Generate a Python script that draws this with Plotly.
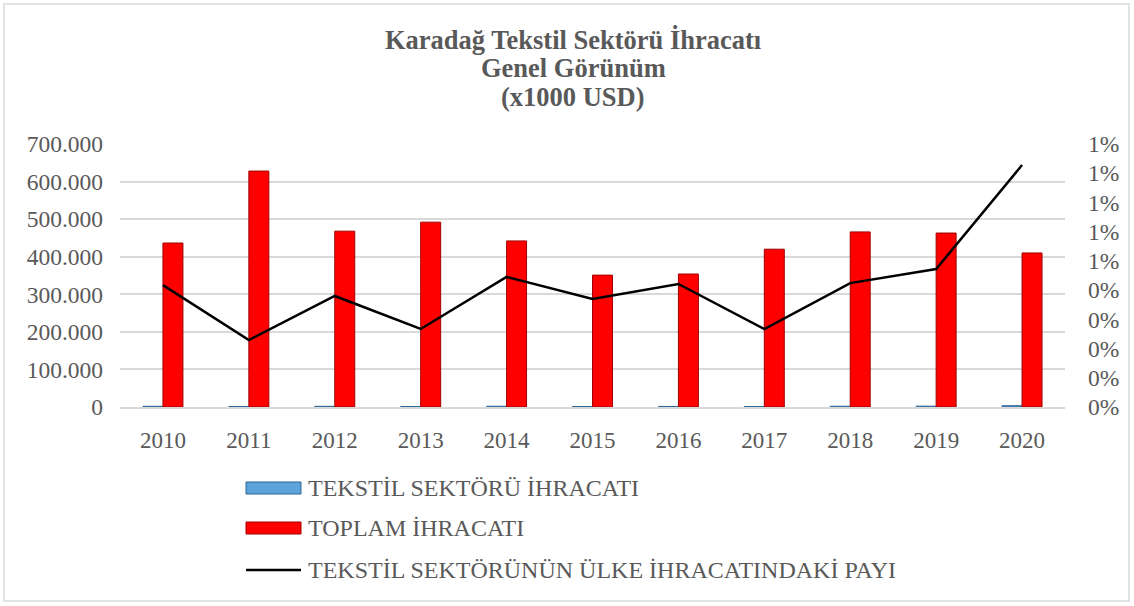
import plotly.graph_objects as go

years = ["2010", "2011", "2012", "2013", "2014", "2015", "2016", "2017", "2018", "2019", "2020"]
toplam_ihracat = [436500, 628000, 468000, 492000, 442000, 351000, 354000, 420000, 466000, 463000, 410000]
tekstil_ihracat = [1820, 1440, 1780, 1310, 1970, 1300, 1490, 1120, 1980, 2190, 3400]
tekstil_payi = [0.00417, 0.00229, 0.00380, 0.00267, 0.00445, 0.00370, 0.00421, 0.00267, 0.00424, 0.00472, 0.00828]

left_ticks = [0, 100000, 200000, 300000, 400000, 500000, 600000, 700000]
left_labels = ["0", "100.000", "200.000", "300.000", "400.000", "500.000", "600.000", "700.000"]
right_ticks = [0.000, 0.001, 0.002, 0.003, 0.004, 0.005, 0.006, 0.007, 0.008, 0.009]
right_labels = ["0%", "0%", "0%", "0%", "0%", "1%", "1%", "1%", "1%", "1%"]

series_names = ["TEKSTİL SEKTÖRÜ İHRACATI", "TOPLAM İHRACATI", "TEKSTİL SEKTÖRÜNÜN ÜLKE İHRACATINDAKİ PAYI"]
title_lines = ["Karadağ Tekstil Sektörü İhracatı", "Genel Görünüm", "(x1000 USD)"]

FONT = "Liberation Serif"
TXT = "#595959"
BLUE, BLUE_EDGE = "#5BA3DA", "#2E6496"
RED, RED_EDGE = "#FF0000", "#A00000"

fig = go.Figure()
fig.add_trace(go.Bar(
    x=years, y=tekstil_ihracat, name=series_names[0],
    marker=dict(color=BLUE, line=dict(color=BLUE_EDGE, width=1)),
))
fig.add_trace(go.Bar(
    x=years, y=toplam_ihracat, name=series_names[1],
    marker=dict(color=RED, line=dict(color=RED_EDGE, width=1)),
))
fig.add_trace(go.Scatter(
    x=years, y=tekstil_payi, name=series_names[2],
    mode="lines", line=dict(color="black", width=2.5), yaxis="y2",
))

W, H = 1134, 606
ml, mr, mt, mb = 120, 69, 144, 199
PW, PH = W - ml - mr, H - mt - mb

def px(p):
    return (p - ml) / PW

def py(p):
    return (H - mb - p) / PH

shapes = [dict(
    type="rect", xref="paper", yref="paper",
    x0=px(4), x1=px(1129), y0=py(601), y1=py(4),
    line=dict(color="#D9D9D9", width=1.5), fillcolor="rgba(0,0,0,0)", layer="below",
)]
annotations = []

# title lines
for line, yc in zip(title_lines, [40, 68, 97]):
    annotations.append(dict(
        text="<b>" + line + "</b>", xref="paper", yref="paper",
        x=px(573), y=py(yc), xanchor="center", yanchor="middle", showarrow=False,
        font=dict(family=FONT, size=26.5, color=TXT),
    ))

# custom legend (wide flat symbols like the original)
leg_rows = [488, 528, 570]
sym_x0, sym_x1, txt_x = 246, 301, 306
for i, (name, yc) in enumerate(zip(series_names, leg_rows)):
    if i < 2:
        fill, edge = (BLUE, BLUE_EDGE) if i == 0 else (RED, RED_EDGE)
        shapes.append(dict(
            type="rect", xref="paper", yref="paper",
            x0=px(sym_x0), x1=px(sym_x1), y0=py(yc + 6), y1=py(yc - 6),
            fillcolor=fill, line=dict(color=edge, width=1),
        ))
    else:
        shapes.append(dict(
            type="line", xref="paper", yref="paper",
            x0=px(sym_x0), x1=px(sym_x1), y0=py(yc), y1=py(yc),
            line=dict(color="black", width=2.5),
        ))
    annotations.append(dict(
        text=name, xref="paper", yref="paper",
        x=px(txt_x), y=py(yc), xanchor="left", yanchor="middle", showarrow=False,
        font=dict(family=FONT, size=24, color=TXT),
    ))

fig.update_layout(
    width=W, height=H,
    margin=dict(l=ml, r=mr, t=mt, b=mb),
    paper_bgcolor="white", plot_bgcolor="white",
    font=dict(family=FONT, color=TXT, size=23),
    showlegend=False,
    barmode="group", bargap=0.535, bargroupgap=0,
    xaxis=dict(
        showgrid=False, showline=True, linecolor="#D9D9D9", linewidth=1.5,
        tickfont=dict(family=FONT, size=23, color=TXT), ticks="", ticklabelstandoff=12,
    ),
    yaxis=dict(
        range=[0, 700000], tickvals=left_ticks, ticktext=left_labels,
        showgrid=True, gridcolor="#D9D9D9", gridwidth=1.5, zeroline=False,
        showline=False, tickfont=dict(family=FONT, size=23.5, color=TXT), ticklabelstandoff=16,
    ),
    yaxis2=dict(
        range=[0, 0.009], tickvals=right_ticks, ticktext=right_labels,
        overlaying="y", side="right", showgrid=False, zeroline=False,
        showline=False, tickfont=dict(family=FONT, size=23.5, color=TXT), ticklabelstandoff=22,
    ),
    shapes=shapes,
    annotations=annotations,
)

fig.write_html("out.html", config={"displayModeBar": False},
               post_script="document.body.style.margin='0';")
